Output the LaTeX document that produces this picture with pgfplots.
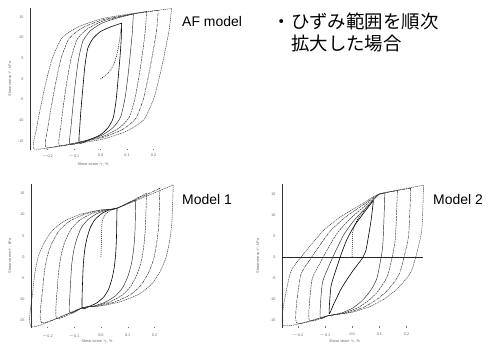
\documentclass[border=0pt]{standalone}
\usepackage{fontspec}
\setmainfont{Liberation Sans}
\newfontfamily\jp{Noto Sans CJK JP}
\usepackage{pgfplots}
\pgfplotsset{compat=1.18}
\pgfplotsset{
  hyst/.style={
    scale only axis, anchor=south west, clip=false,
    axis y line*=left, axis x line*=bottom,
    x axis line style={draw=none},
    y axis line style={black!80, line width=0.5pt},
    xtick={-0.2,-0.1,0,0.1,0.2},
    xticklabels={$-$0.2,$-$0.1,0.0,0.1,0.2},
    ytick={-15,-10,-5,0,5,10,15},
    major tick length=1.2bp,
    tick style={black!55, line width=0.3pt},
    /pgf/number format/assume math mode=true,
    tick label style={font=\fontsize{3.8}{4}\selectfont, text=black!60},
    yticklabel style={xshift=-3bp},
    label style={font=\fontsize{3.8}{4}\selectfont, text=black!60},
    xlabel={Shear strain $\gamma$, \%},
    ylabel={Shear stress $\tau$, kPa},
  },
  s1/.style={black, line width=0.6pt, smooth, tension=0.35},
  s2/.style={black!85, line width=0.45pt, smooth, tension=0.35},
  s3/.style={black!85, line width=0.45pt, dash pattern=on 2pt off 0.8pt, smooth, tension=0.35},
  s4/.style={black!85, line width=0.45pt, dash pattern=on 3pt off 0.8pt on 0.8pt off 0.8pt, smooth, tension=0.35},
  s5/.style={black!80, line width=0.45pt, dash pattern=on 1.2pt off 0.7pt, smooth, tension=0.35},
  si/.style={black, line width=0.5pt, dash pattern=on 1pt off 1pt, smooth, tension=0.35},
}
\begin{document}
\begin{tikzpicture}
\useasboundingbox (0,0) rectangle (488bp,346bp);

% ---------------- AF model ----------------
\begin{axis}[hyst, at={(30bp,195.8bp)}, width=143.4bp, height=142.4bp,
  xmin=-0.266, xmax=0.275, ymin=-17.2, ymax=17.2,
  ylabel style={at={(axis description cs:-0.139,0.5)}, anchor=center},
  xlabel style={at={(axis description cs:0.44,-0.098)}, anchor=center}]
\addplot[si] coordinates {(0,0)(0.03,1.5)(0.05,3.5)(0.062,6)(0.072,9.5)(0.08,13.5)};
\addplot[s1] coordinates {(0.08,13.5)(0.04,12.63)(0,11.47)(-0.029,9.73)(-0.048,7.41)(-0.059,3.06)(-0.067,-2.45)(-0.074,-7.67)(-0.078,-11.44)(-0.08,-15.5)
 (-0.04,-14.63)(0,-13.47)(0.029,-11.73)(0.048,-9.41)(0.059,-5.06)(0.067,0.45)(0.074,5.67)(0.078,9.44)(0.08,13.5)};
\addplot[s2] coordinates {(0.124,15.7)(0.064,14.75)(0.005,13.49)(-0.039,11.6)(-0.067,9.08)(-0.084,4.36)(-0.096,-1.63)(-0.105,-7.3)(-0.111,-11.39)(-0.115,-15.8)
 (-0.055,-14.85)(0.005,-13.59)(0.048,-11.7)(0.076,-9.18)(0.093,-4.46)(0.105,1.53)(0.114,7.2)(0.12,11.29)(0.124,15.7)};
\addplot[s3] coordinates {(0.174,16.3)(0.092,15.33)(0.01,14.03)(-0.05,12.09)(-0.089,9.5)(-0.112,4.64)(-0.129,-1.52)(-0.142,-7.35)(-0.15,-11.56)(-0.155,-16.1)
 (-0.073,-15.13)(0.01,-13.83)(0.069,-11.89)(0.108,-9.3)(0.131,-4.44)(0.148,1.72)(0.161,7.55)(0.169,11.76)(0.174,16.3)};
\addplot[s4] coordinates {(0.218,16.6)(0.112,15.61)(0.007,14.28)(-0.07,12.3)(-0.12,9.65)(-0.15,4.68)(-0.171,-1.61)(-0.188,-7.56)(-0.199,-11.87)(-0.205,-16.5)
 (-0.099,-15.51)(0.006,-14.18)(0.083,-12.2)(0.133,-9.55)(0.163,-4.58)(0.184,1.71)(0.201,7.66)(0.212,11.97)(0.218,16.6)};
\addplot[s5] coordinates {(0.268,17)(0.139,15.98)(0.009,14.63)(-0.084,12.59)(-0.146,9.88)(-0.183,4.8)(-0.209,-1.65)(-0.229,-7.75)(-0.242,-12.15)(-0.25,-16.9)
 (-0.121,-15.88)(0.009,-14.53)(0.102,-12.49)(0.164,-9.78)(0.201,-4.7)(0.227,1.75)(0.247,7.85)(0.26,12.25)(0.268,17)};
\end{axis}

% ---------------- Model 1 ----------------
\begin{axis}[hyst, at={(31bp,17.8bp)}, width=143.6bp, height=144.6bp,
  xmin=-0.261, xmax=0.275, ymin=-16.8, ymax=17.3,
  xticklabel style={yshift=-2bp},
  ylabel style={at={(axis description cs:-0.146,0.5)}, anchor=center},
  xlabel style={at={(axis description cs:0.46,-0.095)}, anchor=center}]
\addplot[si] coordinates {(0,0)(0.002,4)(0.005,8.5)(0.02,10.3)(0.04,11.1)(0.06,11.5)};
\addplot[s1] coordinates {(0.06,11.5)(0.034,11.15)(0.005,10.32)(-0.021,8.91)(-0.039,7.03)(-0.052,4.45)(-0.06,1.86)(-0.065,-1.19)(-0.068,-4.95)(-0.07,-12)
 (-0.044,-11.65)(-0.015,-10.82)(0.011,-9.41)(0.029,-7.53)(0.042,-4.95)(0.05,-2.36)(0.055,0.69)(0.058,4.45)(0.06,11.5)};
\addplot[s2] coordinates {(0.13,13.5)(0.06,11.5)(0.025,11.13)(-0.014,10.26)(-0.049,8.78)(-0.074,6.81)(-0.091,4.09)(-0.102,1.37)(-0.109,-1.84)(-0.113,-5.79)(-0.116,-13.2)
 (-0.07,-12)(-0.03,-11.62)(0.014,-10.72)(0.054,-9.19)(0.082,-7.15)(0.102,-4.35)(0.114,-1.54)(0.122,1.77)(0.127,5.85)(0.13,13.5)};
\addplot[s3] coordinates {(0.17,15)(0.06,11.5)(0.015,11.11)(-0.035,10.2)(-0.08,8.64)(-0.111,6.56)(-0.134,3.7)(-0.147,0.84)(-0.156,-2.54)(-0.162,-6.7)(-0.165,-14.5)
 (-0.07,-12)(-0.022,-11.59)(0.031,-10.65)(0.079,-9.03)(0.112,-6.87)(0.136,-3.9)(0.151,-0.93)(0.16,2.58)(0.166,6.9)(0.17,15)};
\addplot[s4] coordinates {(0.22,16.2)(0.06,11.5)(0.004,11.09)(-0.058,10.15)(-0.114,8.53)(-0.154,6.37)(-0.182,3.4)(-0.199,0.43)(-0.21,-3.08)(-0.217,-7.4)(-0.221,-15.5)
 (-0.07,-12)(-0.012,-11.58)(0.052,-10.59)(0.11,-8.9)(0.15,-6.64)(0.179,-3.54)(0.197,-0.44)(0.208,3.23)(0.216,7.74)(0.22,16.2)};
\addplot[s5] coordinates {(0.27,17)(0.06,11.5)(-0.004,11.08)(-0.074,10.1)(-0.138,8.42)(-0.182,6.18)(-0.214,3.1)(-0.234,0.02)(-0.246,-3.62)(-0.254,-8.1)(-0.259,-16.5)
 (-0.07,-12)(-0.002,-11.56)(0.073,-10.55)(0.141,-8.81)(0.188,-6.49)(0.222,-3.3)(0.243,-0.11)(0.256,3.66)(0.265,8.3)(0.27,17)};
\end{axis}

% ---------------- Model 2 ----------------
\begin{axis}[hyst, at={(282bp,18.4bp)}, width=142.3bp, height=143.2bp,
  xmin=-0.258, xmax=0.265, ymin=-16.8, ymax=17.3,
  xticklabel style={yshift=-2bp},
  ylabel style={at={(axis description cs:-0.169,0.5)}, anchor=center},
  xlabel style={at={(axis description cs:0.44,-0.097)}, anchor=center}]
\addplot[black!85, line width=0.6pt] coordinates {(-0.258,0)(0.262,0)};
\addplot[si] coordinates {(0,0)(0.002,6)(0.02,9)(0.05,11.5)(0.078,13.5)};
\addplot[s1] coordinates {(0.078,13.5)(0.05,11.14)(0.009,7.55)(-0.019,4.27)(-0.041,0.58)(-0.059,-2.9)(-0.078,-7)(-0.085,-13.5)
 (-0.07,-11.5)(-0.04,-7.5)(0.0,-3.5)(0.035,-0.5)(0.05,1.5)(0.06,5)(0.07,9)(0.078,13.5)};
\addplot[s2] coordinates {(0.12,15.2)(0.1,15)(0.062,12.55)(0.008,8.82)(-0.03,5.41)(-0.06,1.58)(-0.085,-2.04)(-0.11,-6.3)(-0.118,-14.4)
 (-0.09,-14)(-0.04,-13.34)(0.001,-12.18)(0.031,-10.7)(0.055,-9.05)(0.076,-7.07)(0.092,-4.76)(0.112,2.5)(0.12,15.2)};
\addplot[s3] coordinates {(0.166,15.8)(0.1,15)(0.055,12.64)(-0.009,9.05)(-0.054,5.77)(-0.089,2.08)(-0.118,-1.4)(-0.148,-5.5)(-0.158,-15)
 (-0.09,-14)(-0.028,-13.28)(0.022,-12.02)(0.059,-10.4)(0.089,-8.6)(0.113,-6.44)(0.133,-3.92)(0.158,4)(0.166,15.8)};
\addplot[s4] coordinates {(0.215,16.4)(0.1,15)(0.048,12.76)(-0.028,9.34)(-0.08,6.22)(-0.12,2.71)(-0.155,-0.6)(-0.19,-4.5)(-0.205,-15.6)
 (-0.09,-14)(-0.016,-13.24)(0.044,-11.91)(0.088,-10.2)(0.124,-8.3)(0.154,-6.02)(0.177,-3.36)(0.207,5)(0.215,16.4)};
\addplot[s5] coordinates {(0.262,17.1)(0.1,15)(0.041,12.83)(-0.044,9.52)(-0.103,6.49)(-0.149,3.09)(-0.189,-0.12)(-0.228,-3.9)(-0.255,-16.2)
 (-0.09,-14)(-0.004,-13.2)(0.065,-11.8)(0.117,-10)(0.158,-8)(0.193,-5.6)(0.221,-2.8)(0.255,6)(0.262,17.1)};
\end{axis}

% ---------------- texts ----------------
\node[anchor=base west, inner sep=0pt, font=\fontsize{14}{16}\selectfont] at (182bp,319bp) {AF model};
\node[anchor=base west, inner sep=0pt, font=\fontsize{14}{16}\selectfont] at (182bp,141bp) {Model 1};
\node[anchor=base west, inner sep=0pt, font=\fontsize{14}{16}\selectfont] at (433bp,141bp) {Model 2};
\node[anchor=base west, inner sep=0pt, font=\jp\fontsize{18.5}{22}\selectfont] at (272.5bp,317.5bp) {・ひずみ範囲を順次};
\node[anchor=base west, inner sep=0pt, font=\jp\fontsize{18.5}{22}\selectfont] at (291bp,295.5bp) {拡大した場合};
\end{tikzpicture}
\end{document}
